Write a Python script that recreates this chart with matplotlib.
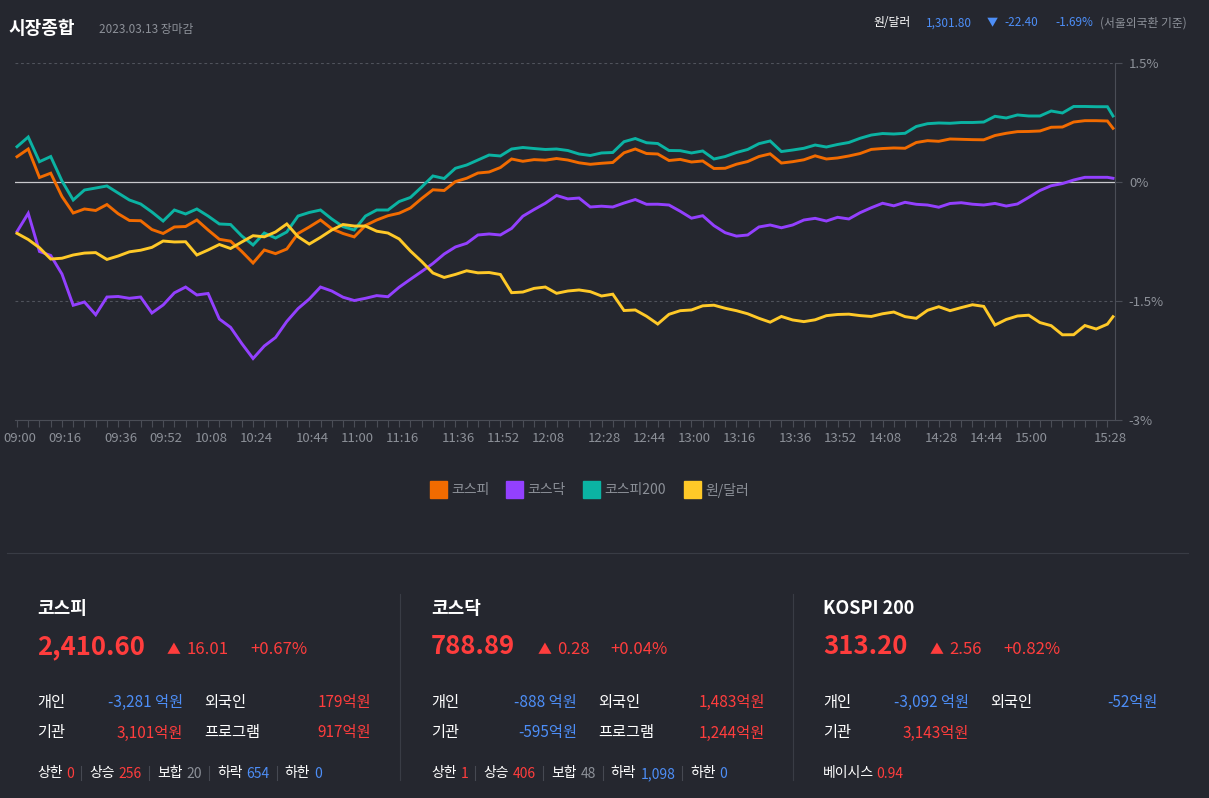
import matplotlib
matplotlib.use('Agg')
import matplotlib.pyplot as plt
from matplotlib.patches import Rectangle
from matplotlib.lines import Line2D
import matplotlib.transforms as mtrans
import numpy as np

plt.rcParams['font.family'] = ['Noto Sans CJK KR', 'DejaVu Sans']

# ---------------- data ----------------
minutes = [4 * k for k in range(98)] + [390]   # minutes after 09:00

kospi = [0.319, 0.416, 0.057, 0.111, -0.183, -0.391, -0.340, -0.359, -0.284, -0.400,
         -0.485, -0.488, -0.599, -0.649, -0.567, -0.561, -0.479, -0.605, -0.722, -0.746,
         -0.876, -1.021, -0.857, -0.903, -0.845, -0.649, -0.567, -0.479, -0.589, -0.649,
         -0.692, -0.548, -0.479, -0.425, -0.393, -0.328, -0.208, -0.098, -0.107, 0.005,
         0.047, 0.113, 0.126, 0.182, 0.290, 0.261, 0.282, 0.275, 0.296, 0.277,
         0.242, 0.223, 0.236, 0.246, 0.368, 0.416, 0.359, 0.353, 0.271, 0.285,
         0.252, 0.265, 0.170, 0.173, 0.224, 0.258, 0.321, 0.355, 0.239, 0.256,
         0.280, 0.330, 0.290, 0.303, 0.328, 0.359, 0.411, 0.422, 0.429, 0.425,
         0.498, 0.521, 0.513, 0.542, 0.538, 0.534, 0.532, 0.586, 0.614, 0.635,
         0.637, 0.643, 0.690, 0.693, 0.756, 0.773, 0.773, 0.769, 0.677]

kosdaq = [-0.626, -0.395, -0.876, -0.926, -1.160, -1.554, -1.513, -1.673, -1.450, -1.443,
          -1.466, -1.450, -1.651, -1.550, -1.397, -1.324, -1.424, -1.405, -1.727, -1.832,
          -2.037, -2.225, -2.067, -1.960, -1.758, -1.596, -1.475, -1.324, -1.374, -1.452,
          -1.494, -1.466, -1.432, -1.446, -1.326, -1.226, -1.128, -1.027, -0.908, -0.819,
          -0.773, -0.668, -0.655, -0.668, -0.585, -0.431, -0.347, -0.268, -0.170, -0.213,
          -0.202, -0.315, -0.305, -0.315, -0.265, -0.221, -0.281, -0.280, -0.290, -0.369,
          -0.456, -0.425, -0.550, -0.639, -0.682, -0.668, -0.567, -0.542, -0.577, -0.542,
          -0.479, -0.458, -0.492, -0.445, -0.466, -0.387, -0.324, -0.268, -0.300, -0.256,
          -0.281, -0.290, -0.318, -0.271, -0.261, -0.280, -0.290, -0.270, -0.303, -0.277,
          -0.194, -0.107, -0.047, -0.020, 0.025, 0.059, 0.059, 0.059, 0.047]

kospi200 = [0.445, 0.567, 0.256, 0.321, 0.013, -0.227, -0.101, -0.076, -0.050, -0.139,
            -0.227, -0.277, -0.378, -0.492, -0.353, -0.403, -0.340, -0.429, -0.529, -0.536,
            -0.681, -0.794, -0.643, -0.706, -0.630, -0.429, -0.384, -0.353, -0.466, -0.563,
            -0.605, -0.429, -0.353, -0.353, -0.246, -0.195, -0.063, 0.076, 0.044, 0.173,
            0.214, 0.277, 0.340, 0.328, 0.416, 0.435, 0.422, 0.410, 0.416, 0.397,
            0.353, 0.334, 0.366, 0.372, 0.508, 0.548, 0.495, 0.485, 0.397, 0.395,
            0.366, 0.391, 0.290, 0.321, 0.372, 0.410, 0.483, 0.517, 0.384, 0.403,
            0.425, 0.466, 0.441, 0.473, 0.498, 0.551, 0.592, 0.611, 0.605, 0.614,
            0.700, 0.735, 0.744, 0.740, 0.750, 0.750, 0.756, 0.828, 0.807, 0.845,
            0.832, 0.832, 0.895, 0.870, 0.952, 0.952, 0.949, 0.949, 0.832]

usdkrw = [-0.647, -0.725, -0.829, -0.971, -0.961, -0.920, -0.896, -0.890, -0.976, -0.933,
          -0.880, -0.860, -0.824, -0.744, -0.756, -0.753, -0.920, -0.857, -0.788, -0.838,
          -0.756, -0.677, -0.691, -0.630, -0.529, -0.689, -0.782, -0.698, -0.605, -0.536,
          -0.555, -0.555, -0.620, -0.643, -0.718, -0.870, -1.002, -1.147, -1.203, -1.165,
          -1.119, -1.145, -1.141, -1.166, -1.395, -1.387, -1.341, -1.324, -1.403, -1.374,
          -1.361, -1.382, -1.437, -1.414, -1.620, -1.613, -1.692, -1.790, -1.668, -1.622,
          -1.613, -1.561, -1.553, -1.592, -1.622, -1.661, -1.718, -1.767, -1.695, -1.739,
          -1.760, -1.737, -1.685, -1.670, -1.666, -1.684, -1.695, -1.661, -1.639, -1.697,
          -1.718, -1.617, -1.572, -1.622, -1.583, -1.547, -1.568, -1.803, -1.733, -1.689,
          -1.679, -1.772, -1.811, -1.926, -1.925, -1.809, -1.853, -1.792, -1.698]

series_names = ['코스피', '코스닥', '코스피200', '원/달러']
series_colors = ['#f26b00', '#9340ff', '#0bb3a3', '#ffc928']

tick_minutes = [0, 16, 36, 52, 68, 84, 104, 120, 136, 156, 172, 188, 208, 224,
                240, 256, 276, 292, 308, 328, 344, 360, 388]
tick_labels = ['09:00', '09:16', '09:36', '09:52', '10:08', '10:24', '10:44', '11:00',
               '11:16', '11:36', '11:52', '12:08', '12:28', '12:44', '13:00', '13:16',
               '13:36', '13:52', '14:08', '14:28', '14:44', '15:00', '15:28']
y_ticks = [1.5, 0, -1.5, -3]
y_tick_labels = ['1.5%', '0%', '-1.5%', '-3%']

fx_label = '원/달러'
fx_rate = '1,301.80'
fx_change = '-22.40'
fx_pct = '-1.69%'

panel_names = ['코스피', '코스닥', 'KOSPI 200']
panel_values = ['2,410.60', '788.89', '313.20']
panel_changes = ['16.01', '0.28', '2.56']
panel_pcts = ['+0.67%', '+0.04%', '+0.82%']
flow_individual = [-3281, -888, -3092]
flow_foreign = [179, 1483, -52]
flow_institution = [3101, -595, 3143]
flow_program = [917, 1244, None]
breadth_labels = ['상한', '상승', '보합', '하락', '하한']
breadth_kospi = [0, 256, 20, 654, 0]
breadth_kosdaq = [1, 406, 48, 1098, 0]
kospi200_basis = 0.94

# ---------------- style ----------------
W, H = 1209, 798
BG = '#25272f'
RED = '#ff3d3d'
BLUE = '#4d8ef7'
GRAY = '#8c9098'
AXC = '#4a4d56'
SEP = '#393c45'

fig = plt.figure(figsize=(W / 100, H / 100), dpi=100, facecolor=BG)
renderer = fig.canvas.get_renderer()


def T(x, y, s, c='white', size=10.5, weight='normal', ha='left'):
    return fig.text(x / W, 1 - y / H, s, color=c, fontsize=size, fontweight=weight,
                    ha=ha, va='center')


def x1(t):
    return t.get_window_extent(renderer).x1


def vline(x, y0, y1, c=SEP, lw=0.8):
    fig.add_artist(Line2D([x / W, x / W], [1 - y0 / H, 1 - y1 / H], color=c, lw=lw,
                          transform=fig.transFigure))


def hline(x0, x1_, y, c=SEP, lw=0.8):
    fig.add_artist(Line2D([x0 / W, x1_ / W], [1 - y / H, 1 - y / H], color=c, lw=lw,
                          transform=fig.transFigure))


# ---------------- chart ----------------
ax = fig.add_axes([15 / W, 1 - 420 / H, 1100 / W, 357 / H])
ax.set_facecolor(BG)
ax.set_xlim(-0.71, 390.71)
ax.set_ylim(-3, 1.5)
for s in ['top', 'left']:
    ax.spines[s].set_visible(False)
for s in ['right', 'bottom']:
    ax.spines[s].set_color(AXC)
    ax.spines[s].set_linewidth(0.8)

ax.axhline(0, color='#c9c9cd', lw=0.9, zorder=1)
for yv in [1.5, -1.5]:
    ax.axhline(yv, color='#50535c', lw=0.8, ls=(0, (2.5, 2.5)), zorder=1)

for vals, col in zip([kospi, kosdaq, kospi200, usdkrw], series_colors):
    ax.plot(minutes, vals, color=col, lw=2.1, solid_joinstyle='miter', zorder=3)

ax.yaxis.tick_right()
ax.set_yticks(y_ticks)
ax.set_yticklabels(y_tick_labels)
ax.tick_params(axis='y', colors=AXC, labelcolor=GRAY, length=5, width=0.8, pad=5,
               labelsize=9.5)
ax.set_xticks(tick_minutes)
ax.set_xticklabels(tick_labels)
ax.set_xticks(np.arange(0, 389, 4), minor=True)
ax.tick_params(axis='x', which='both', colors=AXC, labelcolor=GRAY, length=5,
               width=0.8, pad=4, labelsize=9.5)
off = mtrans.ScaledTranslation(3 / 100, 0, fig.dpi_scale_trans)
for lab in ax.get_xticklabels():
    lab.set_transform(lab.get_transform() + off)

# ---------------- header ----------------
T(8, 28, '시장종합', 'white', 13, 'bold')
T(99, 29, '2023.03.13 장마감', GRAY, 8.5)
T(873, 23, fx_label, 'white', 8.5)
T(926, 23, fx_rate, BLUE, 8.5)
T(987, 23, '▼', BLUE, 8)
T(1004, 23, fx_change, BLUE, 8.5)
T(1055, 23, fx_pct, BLUE, 8.5)
T(1100, 23, '(서울외국환 기준)', GRAY, 8.5)

# ---------------- legend ----------------
leg_x = [430, 506, 583, 684]
for lx, name, col in zip(leg_x, series_names, series_colors):
    fig.add_artist(Rectangle((lx / W, 1 - 498 / H), 17 / W, 17 / H, color=col,
                             transform=fig.transFigure))
    T(lx + 21, 490, name, GRAY, 10)

# ---------------- separators ----------------
hline(7, 1188, 553)
vline(400, 594, 780)
vline(793, 594, 780)

# ---------------- panels ----------------
def fmt_flow(v, space=False):
    s = f'{v:,}'
    return s + (' 억원' if space else '억원')


def colr(v):
    return RED if v > 0 else BLUE


FS = 11
panel_x = [37, 431, 823]
for i, x0 in enumerate(panel_x):
    T(x0, 609, panel_names[i], 'white', 13, 'bold')
    t = T(x0, 647, panel_values[i], RED, 18.5, 'bold')
    xa = x1(t) + 22
    t = T(xa, 650, '▲', RED, 10)
    t = T(xa + 20, 650, panel_changes[i], RED, 12)
    T(x1(t) + 21, 650, panel_pcts[i], RED, 12)

    T(x0, 702, '개인', 'white', FS)
    T(x0 + 146, 702, fmt_flow(flow_individual[i], True), colr(flow_individual[i]), FS, ha='right')
    T(x0 + 167, 702, '외국인', 'white', FS)
    T(x0 + 334, 702, fmt_flow(flow_foreign[i]), colr(flow_foreign[i]), FS, ha='right')
    T(x0, 733, '기관', 'white', FS)
    T(x0 + 146, 733, fmt_flow(flow_institution[i]), colr(flow_institution[i]), FS, ha='right')
    if flow_program[i] is not None:
        T(x0 + 167, 733, '프로그램', 'white', FS)
        T(x0 + 334, 733, fmt_flow(flow_program[i]), colr(flow_program[i]), FS, ha='right')

breadth_colors = [RED, RED, GRAY, BLUE, BLUE]
for x0, vals in zip(panel_x[:2], [breadth_kospi, breadth_kosdaq]):
    x = x0
    for j, (lab, v, c) in enumerate(zip(breadth_labels, vals, breadth_colors)):
        t = T(x, 773, lab, 'white', 10)
        t = T(x1(t) + 4, 774, f'{v:,}', c, 10)
        if j < len(vals) - 1:
            xs = x1(t) + 7
            vline(xs, 766, 780, c='#464952', lw=0.8)
            x = xs + 8

t = T(panel_x[2], 773, '베이시스', 'white', 10)
T(x1(t) + 2, 774, f'{kospi200_basis:.2f}', RED, 10)

fig.savefig('out.png', dpi=100, facecolor=BG)
